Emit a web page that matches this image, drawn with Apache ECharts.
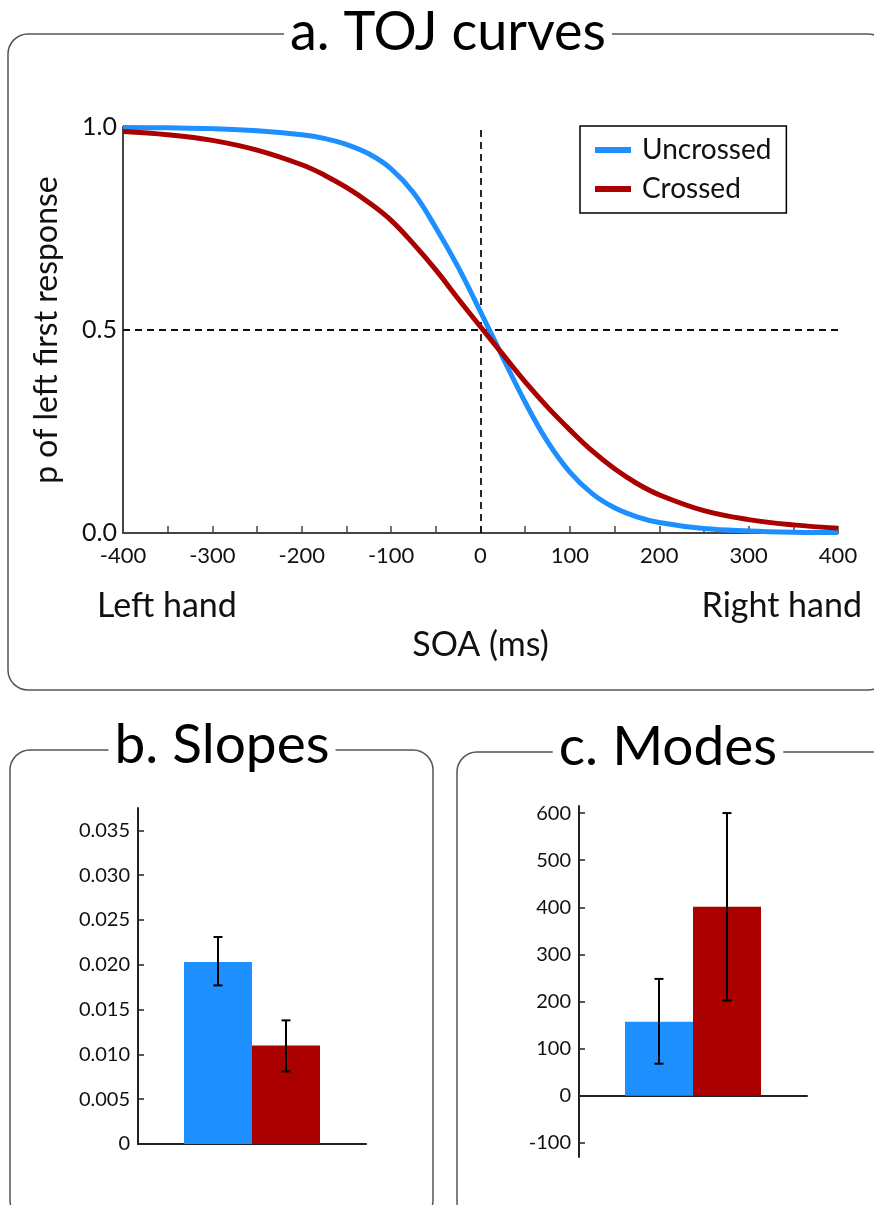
<!DOCTYPE html>
<html>
<head>
<meta charset="utf-8">
<title>TOJ curves, slopes and modes</title>
<script src="https://cdn.jsdelivr.net/npm/echarts@6/dist/echarts.min.js"></script>
<style>
html, body { margin: 0; padding: 0; background: #fff; }
#chart { width: 874px; height: 1205px; }
</style>
</head>
<body>
<div id="chart"></div>
<script>
// a. TOJ curves
var soa = [-400, -350, -300, -250, -200, -175, -150, -125, -100, -75, -50, -25, 0, 25, 50, 75, 100, 125, 150, 175, 200, 250, 300, 350, 400];
var uncrossedP = [0.999, 0.998, 0.996, 0.991, 0.981, 0.972, 0.957, 0.934, 0.897, 0.838, 0.752, 0.655, 0.545, 0.432, 0.322, 0.225, 0.15, 0.097, 0.062, 0.04, 0.026, 0.011, 0.005, 0.002, 0.001];
var crossedP = [0.989, 0.981, 0.967, 0.943, 0.907, 0.882, 0.851, 0.814, 0.77, 0.712, 0.648, 0.577, 0.508, 0.44, 0.372, 0.31, 0.254, 0.202, 0.158, 0.122, 0.094, 0.055, 0.033, 0.02, 0.012];

// b. Slopes
var slopeMeans = [0.0203, 0.0110];
var slopeLow = [0.0177, 0.0081];
var slopeHigh = [0.0231, 0.0138];
var slopeTicks = [0, 0.005, 0.01, 0.015, 0.02, 0.025, 0.03, 0.035];

// c. Modes
var modeMeans = [157, 401];
var modeLow = [68, 202];
var modeHigh = [248, 600];
var modeTicks = [-100, 0, 100, 200, 300, 400, 500, 600];

var BLUE = '#1E8FFF';
var RED = '#AA0000';
var FONT = 'Lato';
var BAR_W = 68;

function pairs(xs, ys) {
    return xs.map(function (x, i) { return [x, ys[i]]; });
}

function errorBars(barW) {
    return function (params, api) {
        var cat = api.value(0);
        var lo = api.coord([cat, api.value(1)]);
        var hi = api.coord([cat, api.value(2)]);
        var x = lo[0] + (api.value(3) === 0 ? -1 : 1) * barW / 2;
        var cap = 4.5;
        var st = { stroke: '#000', lineWidth: 2 };
        return {
            type: 'group',
            children: [
                { type: 'line', shape: { x1: x, y1: hi[1], x2: x, y2: lo[1] }, style: st },
                { type: 'line', shape: { x1: x - cap, y1: hi[1], x2: x + cap, y2: hi[1] }, style: st },
                { type: 'line', shape: { x1: x - cap, y1: lo[1], x2: x + cap, y2: lo[1] }, style: st }
            ]
        };
    };
}

function box(x, y, w, h) {
    return {
        type: 'rect',
        shape: { x: x, y: y, width: w, height: h, r: 20 },
        style: { fill: 'none', stroke: '#555', lineWidth: 1.5 },
        z: 0
    };
}

function title(text, x, y, size) {
    return {
        type: 'text',
        x: x,
        y: y,
        z: 1,
        style: {
            text: text,
            fontSize: size,
            fontFamily: FONT,
            fill: '#000',
            align: 'center',
            textAlign: 'center',
            verticalAlign: 'middle',
            textVerticalAlign: 'middle',
            backgroundColor: '#fff',
            padding: [0, 6]
        }
    };
}

function plainText(text, x, y, size, align) {
    return {
        type: 'text',
        x: x,
        y: y,
        style: {
            text: text,
            fontSize: size,
            fontFamily: FONT,
            fill: '#111',
            align: align,
            textAlign: align,
            verticalAlign: 'middle',
            textVerticalAlign: 'middle'
        }
    };
}

var chart = echarts.init(document.getElementById('chart'));

var option = {
    backgroundColor: '#fff',
    animation: false,
    textStyle: { fontFamily: FONT },
    graphic: [
        box(8, 34, 880, 656),
        box(10, 750, 423, 470),
        box(457, 752, 440, 470),
        title('a. TOJ curves', 448, 33, 54),
        title('b. Slopes', 222, 745, 55),
        title('c. Modes', 668, 747, 55),
        plainText('Left hand', 97, 606, 34, 'left'),
        plainText('Right hand', 862, 606, 34, 'right')
    ],
    legend: {
        left: 580,
        top: 126,
        orient: 'vertical',
        padding: [10, 15, 10, 15],
        borderColor: '#000',
        borderWidth: 1.5,
        itemWidth: 36,
        itemHeight: 6,
        itemGap: 11,
        textStyle: { fontSize: 28, fontFamily: FONT, color: '#111', padding: [0, 0, 0, 6] },
        data: [
            { name: 'Uncrossed', icon: 'rect' },
            { name: 'Crossed', icon: 'rect' }
        ]
    },
    grid: [
        { left: 123, right: 36, top: 127, bottom: 672, outerBoundsMode: 'none' },
        { left: 138, right: 508, top: 808, bottom: 61, outerBoundsMode: 'none' },
        { left: 579, right: 67, top: 806, bottom: 48, outerBoundsMode: 'none' }
    ],
    xAxis: [
        {
            gridIndex: 0,
            type: 'value',
            min: -400,
            max: 400,
            interval: 50,
            name: 'SOA (ms)',
            nameLocation: 'middle',
            nameGap: 95,
            nameTextStyle: { fontSize: 34, fontFamily: FONT, color: '#111' },
            axisLine: { onZero: false, lineStyle: { color: '#444', width: 2 } },
            axisTick: { inside: true, length: 7, lineStyle: { color: '#444', width: 1.5 } },
            axisLabel: {
                fontSize: 22,
                color: '#111',
                margin: 12,
                formatter: function (v) { return v % 100 === 0 ? String(v) : ''; }
            },
            splitLine: { show: false }
        },
        {
            gridIndex: 1,
            type: 'category',
            data: ['Slope'],
            axisLine: { lineStyle: { color: '#222', width: 2 } },
            axisTick: { show: false },
            axisLabel: { show: false }
        },
        {
            gridIndex: 2,
            type: 'category',
            data: ['Mode'],
            axisLine: { onZero: true, lineStyle: { color: '#222', width: 2 } },
            axisTick: { show: false },
            axisLabel: { show: false }
        }
    ],
    yAxis: [
        {
            gridIndex: 0,
            type: 'value',
            min: 0,
            max: 1,
            interval: 0.5,
            name: 'p of left first response',
            nameLocation: 'middle',
            nameGap: 60,
            nameTextStyle: { fontSize: 32, fontFamily: FONT, color: '#111' },
            axisLine: { show: true, onZero: false, lineStyle: { color: '#444', width: 2 } },
            axisTick: { show: true, inside: true, length: 4, lineStyle: { color: '#444' } },
            axisLabel: {
                fontSize: 25,
                color: '#111',
                margin: 6,
                formatter: function (v) { return v.toFixed(1); }
            },
            splitLine: { show: false }
        },
        {
            gridIndex: 1,
            type: 'value',
            min: 0,
            max: 0.0375,
            axisLine: { show: true, onZero: false, lineStyle: { color: '#222', width: 2 } },
            axisTick: { show: true, inside: true, length: 6, customValues: slopeTicks, lineStyle: { color: '#222', width: 1.5 } },
            axisLabel: {
                fontSize: 20,
                color: '#111',
                margin: 8,
                customValues: slopeTicks,
                formatter: function (v) { return v === 0 ? '0' : v.toFixed(3); }
            },
            splitLine: { show: false }
        },
        {
            gridIndex: 2,
            type: 'value',
            min: -130,
            max: 615,
            axisLine: { show: true, onZero: false, lineStyle: { color: '#222', width: 2 } },
            axisTick: { show: true, inside: true, length: 6, customValues: modeTicks, lineStyle: { color: '#222', width: 1.5 } },
            axisLabel: {
                fontSize: 20,
                color: '#111',
                margin: 8,
                customValues: modeTicks
            },
            splitLine: { show: false }
        }
    ],
    series: [
        {
            name: 'Uncrossed',
            type: 'line',
            xAxisIndex: 0,
            yAxisIndex: 0,
            smooth: 0.4,
            showSymbol: false,
            color: BLUE,
            lineStyle: { width: 5, color: BLUE },
            data: pairs(soa, uncrossedP),
            z: 3,
            markLine: {
                silent: true,
                symbol: ['none', 'none'],
                label: { show: false },
                lineStyle: { type: [7, 5], color: '#111', width: 1.8 },
                data: [{ xAxis: 0 }, { yAxis: 0.5 }],
                z: 2
            }
        },
        {
            name: 'Crossed',
            type: 'line',
            xAxisIndex: 0,
            yAxisIndex: 0,
            smooth: 0.4,
            showSymbol: false,
            color: RED,
            lineStyle: { width: 5, color: RED },
            data: pairs(soa, crossedP),
            z: 3
        },
        {
            name: 'Slope uncrossed',
            type: 'bar',
            xAxisIndex: 1,
            yAxisIndex: 1,
            barWidth: BAR_W,
            barGap: '0%',
            itemStyle: { color: BLUE },
            data: [slopeMeans[0]]
        },
        {
            name: 'Slope crossed',
            type: 'bar',
            xAxisIndex: 1,
            yAxisIndex: 1,
            barWidth: BAR_W,
            barGap: '0%',
            itemStyle: { color: RED },
            data: [slopeMeans[1]]
        },
        {
            name: 'Slope error',
            type: 'custom',
            xAxisIndex: 1,
            yAxisIndex: 1,
            renderItem: errorBars(BAR_W),
            encode: { x: 0, y: [1, 2] },
            data: slopeMeans.map(function (m, i) { return [0, slopeLow[i], slopeHigh[i], i]; }),
            z: 5
        },
        {
            name: 'Mode uncrossed',
            type: 'bar',
            xAxisIndex: 2,
            yAxisIndex: 2,
            barWidth: BAR_W,
            barGap: '0%',
            itemStyle: { color: BLUE },
            data: [modeMeans[0]]
        },
        {
            name: 'Mode crossed',
            type: 'bar',
            xAxisIndex: 2,
            yAxisIndex: 2,
            barWidth: BAR_W,
            barGap: '0%',
            itemStyle: { color: RED },
            data: [modeMeans[1]]
        },
        {
            name: 'Mode error',
            type: 'custom',
            xAxisIndex: 2,
            yAxisIndex: 2,
            renderItem: errorBars(BAR_W),
            encode: { x: 0, y: [1, 2] },
            data: modeMeans.map(function (m, i) { return [0, modeLow[i], modeHigh[i], i]; }),
            z: 5
        }
    ]
};

chart.setOption(option);
</script>
</body>
</html>
